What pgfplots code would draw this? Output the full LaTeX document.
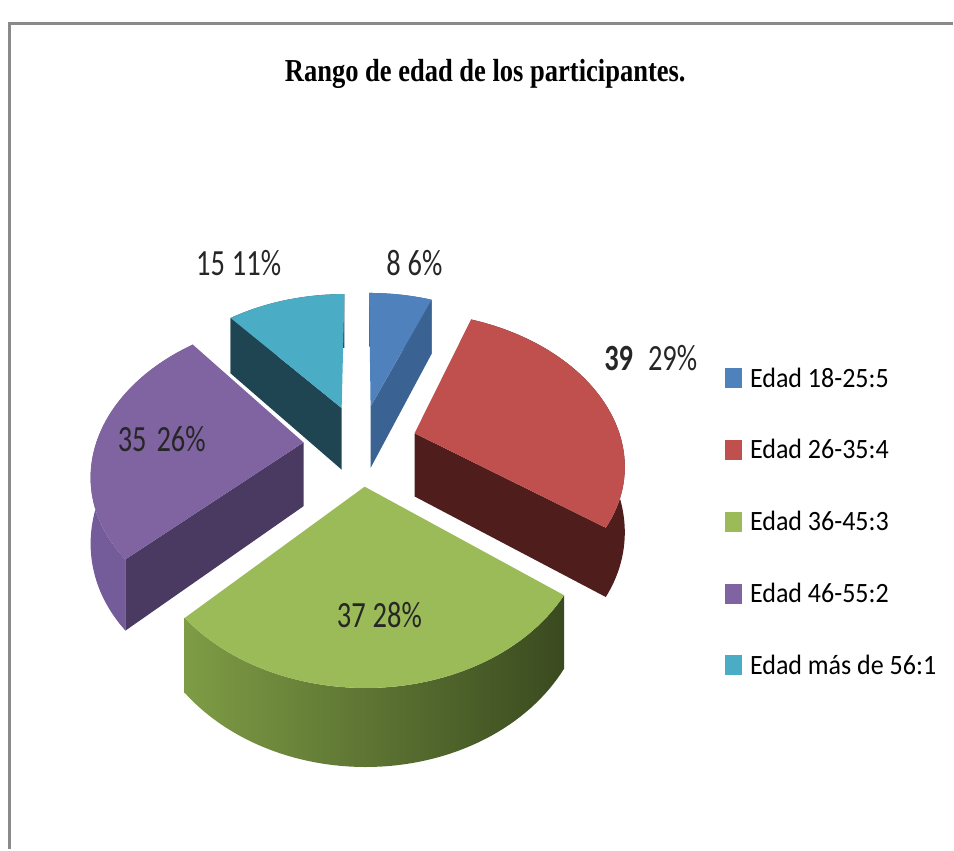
\documentclass[border=0pt]{standalone}
\usepackage{pgfplots}
\pgfplotsset{compat=1.18}
\usepackage{pgfplotstable}
\usepackage{fontspec}
\setmainfont{Carlito}
\newfontfamily\legfont[FakeStretch=0.93]{Carlito}
\newfontfamily\labfont[FakeStretch=0.77]{Carlito}
\newfontfamily\titfont[FakeStretch=0.83]{Liberation Serif}

\definecolor{cBlue}{HTML}{4F81BD}
\definecolor{cBlueD}{HTML}{3A6393}
\definecolor{cRed}{HTML}{C0504D}
\definecolor{cRedD}{HTML}{4F1D1C}
\definecolor{cGreen}{HTML}{9BBB59}
\definecolor{cGreenL}{HTML}{7E9C45}
\definecolor{cGreenM}{HTML}{67853A}
\definecolor{cGreenD}{HTML}{3A4A1F}
\definecolor{cPurple}{HTML}{8064A2}
\definecolor{cPurpleS}{HTML}{735C99}
\definecolor{cPurpleD}{HTML}{4A3960}
\definecolor{cTeal}{HTML}{4BACC6}
\definecolor{cTealD}{HTML}{1E4551}
\definecolor{cFrame}{HTML}{8A8A8A}

% data: participants per age range (clockwise from 12 o'clock)
\pgfplotstableread{
grupo valor
1 8
2 39
3 37
4 35
5 15
}\datos

\pgfplotstablegetelem{0}{valor}\of\datos \edef\vA{\pgfplotsretval}
\pgfplotstablegetelem{1}{valor}\of\datos \edef\vB{\pgfplotsretval}
\pgfplotstablegetelem{2}{valor}\of\datos \edef\vC{\pgfplotsretval}
\pgfplotstablegetelem{3}{valor}\of\datos \edef\vD{\pgfplotsretval}
\pgfplotstablegetelem{4}{valor}\of\datos \edef\vE{\pgfplotsretval}
\pgfmathsetmacro\tot{\vA+\vB+\vC+\vD+\vE}
\pgfmathsetmacro\aA{90}
\pgfmathsetmacro\aB{\aA-360*\vA/\tot}
\pgfmathsetmacro\aC{\aB-360*\vB/\tot}
\pgfmathsetmacro\aD{\aC-360*\vC/\tot}
\pgfmathsetmacro\aE{\aD-360*\vD/\tot}
\pgfmathsetmacro\aF{\aE-360*\vE/\tot}
\pgfmathsetmacro\bA{(\aA+\aB)/2}
\pgfmathsetmacro\bB{(\aB+\aC)/2}
\pgfmathsetmacro\bC{(\aC+\aD)/2}
\pgfmathsetmacro\bD{(\aD+\aE)/2}
\pgfmathsetmacro\bE{(\aE+\aF)/2}

% faces of an exploded 3D slice: #1 start angle, #2 end angle, #3 bisector, #4 style
\newcommand\topface[4]{%
 \addplot[#4, draw=none, forget plot, samples at={0,...,61}, variable=\t]
 ({SX(#3,(\t>0)*(\t<61),(#1)+((#2)-(#1))*min(max(\t-1,0),59)/59)},
  {SY(#3,(\t>0)*(\t<61),(#1)+((#2)-(#1))*min(max(\t-1,0),59)/59,0)});}
\newcommand\sideface[4]{%
 \addplot[#4, draw=none, forget plot, samples at={1,...,120}, variable=\t]
 ({SX(#3,1,(#1)+((#2)-(#1))*((\t<61)*(\t-1)/59+(\t>60)*(120-\t)/59))},
  {SY(#3,1,(#1)+((#2)-(#1))*((\t<61)*(\t-1)/59+(\t>60)*(120-\t)/59),(\t>60))});}
% #1 edge angle, #2 bisector, #3 style
\newcommand\radface[3]{%
 \addplot[#3, draw=none, forget plot, samples at={0,1,2,3}, variable=\t]
 ({SX(#2,(\t>0)*(\t<3),#1)},{SY(#2,(\t>0)*(\t<3),#1,(\t>1))});}

\begin{document}
\begin{tikzpicture}[declare function={
  PU(\b,\r,\h)=0.275*cos(\b)+\r*cos(\h);
  PV(\b,\r,\h)=0.275*sin(\b)+\r*sin(\h);
  SX(\b,\r,\h)=361+208*PU(\b,\r,\h)/(1+0.1825*PV(\b,\r,\h));
  SY(\b,\r,\h,\d)=445-147*PV(\b,\r,\h)/(1+0.1825*PV(\b,\r,\h))+\d*64/(1+0.15*PV(\b,\r,\h));
}]
\begin{axis}[
  scale only axis, width=954pt, height=850pt,
  xmin=0, xmax=954, ymin=0, ymax=850, y dir=reverse,
  axis lines=none, clip=false,
  legend style={at={(axis cs:726,366)}, anchor=north west, draw=none, fill=none,
    inner sep=0pt, row sep=47pt, column sep=6pt,
    font=\legfont\fontsize{28}{30}\selectfont, nodes={inner sep=2pt}},
  legend cell align=left,
  legend image code/.code={\fill[#1, draw=none] (0pt,-10pt) rectangle (17pt,10pt);},
]
\path (axis cs:0,0) (axis cs:954,850);
% frame
\draw[cFrame, line width=3pt] (axis cs:10,850) -- (axis cs:10,24) -- (axis cs:954,24);

% back slices
\sideface{\aB}{\aA}{\bA}{fill=cBlueD}
\radface{\aB}{\bA}{fill=cBlueD}
\topface{\aB}{\aA}{\bA}{fill=cBlue}

\sideface{\aF}{\aE}{\bE}{fill=cTealD}
\radface{\aE}{\bE}{fill=cTealD}
\topface{\aF}{\aE}{\bE}{fill=cTeal}

% middle slices
\sideface{\aC}{\aB}{\bB}{fill=cRedD}
\radface{\aC}{\bB}{fill=cRedD}
\topface{\aC}{\aB}{\bB}{fill=cRed}

\sideface{\aE}{\aD}{\bD}{fill=cPurpleS}
\radface{\aD}{\bD}{fill=cPurpleD}
\topface{\aE}{\aD}{\bD}{fill=cPurple}

% front slice
\sideface{\aD}{\aC}{\bC}{left color=cGreenL, middle color=cGreenM, right color=cGreenD}
\topface{\aD}{\aC}{\bC}{fill=cGreen}

\addlegendimage{fill=cBlue}\addlegendentry{Edad 18-25:5}
\addlegendimage{fill=cRed}\addlegendentry{Edad 26-35:4}
\addlegendimage{fill=cGreen}\addlegendentry{Edad 36-45:3}
\addlegendimage{fill=cPurple}\addlegendentry{Edad 46-55:2}
\addlegendimage{fill=cTeal}\addlegendentry{Edad más de 56:1}

% data labels
\begin{scope}[every node/.style={font=\labfont\fontsize{37}{40}\selectfont, inner sep=0pt, text=black!85}]
\node at (axis cs:415,263) {8\hspace{7pt}6\%};
\node at (axis cs:239,263) {15\hspace{7pt}11\%};
\node[anchor=west] at (axis cs:605,359) {\textbf{39}\hspace{15pt}29\%};
\node at (axis cs:162,440) {35\hspace{10pt}26\%};
\node at (axis cs:380,616) {37\hspace{7pt}28\%};
\end{scope}

\node[font=\titfont\bfseries\fontsize{32}{36}\selectfont, anchor=base, inner sep=0pt]
  at (axis cs:486,82) {Rango de edad de los participantes.};
\end{axis}
\end{tikzpicture}
\end{document}
